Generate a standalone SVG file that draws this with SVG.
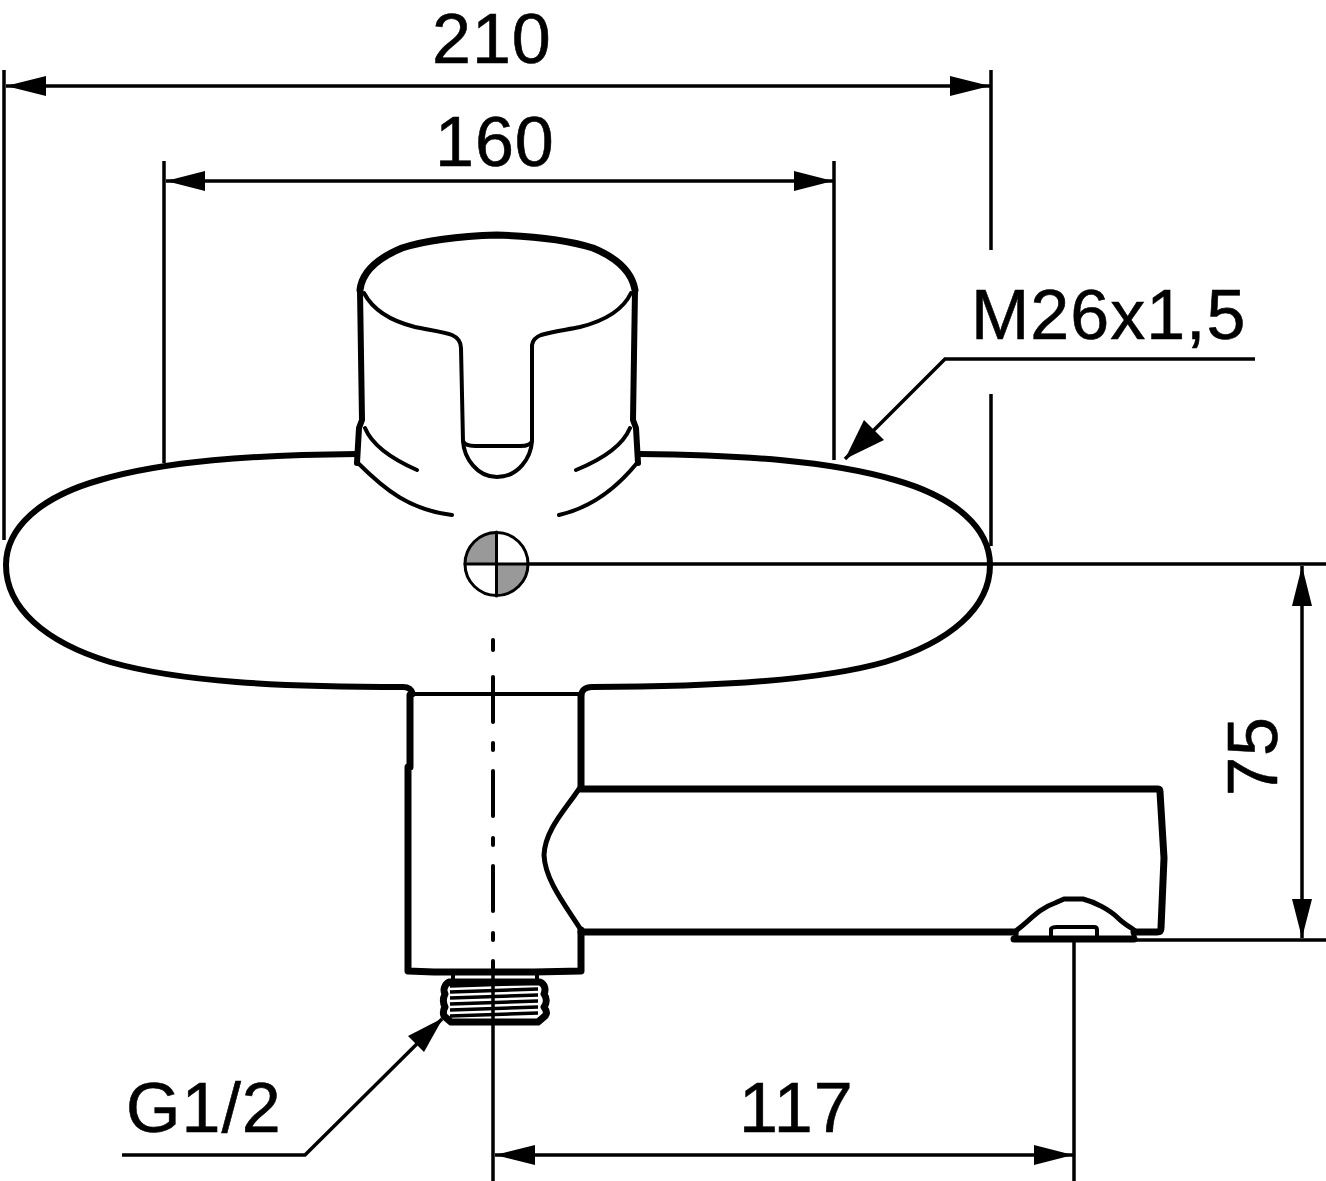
<svg xmlns="http://www.w3.org/2000/svg" width="1326" height="1181" viewBox="0 0 1326 1181">
<defs>
<style>
.t{font-family:"Liberation Sans",Arial,sans-serif;font-size:70px;letter-spacing:1px;fill:#000;stroke:#000;stroke-width:.6}
.h{fill:none;stroke:#000;stroke-width:6;stroke-linejoin:round;stroke-linecap:round}
.m{fill:none;stroke:#000;stroke-width:4;stroke-linejoin:round;stroke-linecap:round}
.d{fill:none;stroke:#000;stroke-width:3.500}
.a{fill:#000;stroke:none}
</style>
</defs>
<rect width="1326" height="1181" fill="#fff"/>
<g id="body">
<path class="h" d="M357 454C250 455 165 461 100 480C40 497 6 528 6 565C6 608 45 642 110 662C180 682 280 687 403 687Q411 687 413 694"/>
<path class="h" d="M639 454C745 455 830 461 895 480C955 497 990 528 990 565C990 608 950 642 885 662C815 682 700 687 592 687Q582 687 581 696"/>
</g>
<g id="knob">
<path class="h" style="stroke-width:7" d="M360 290C362 272 378 258 402 248C430 239 465 236 497 235C530 236 565 239 593 248C617 258 632 272 635 290"/>
<path class="h" d="M360 290L362 420L359 428L357 463M635 290L633 420L636 428L638 463"/>
<path class="m" d="M364 293C374 312 395 322 415 327C430 330 445 332 452 335Q461 339 461 348L463 441C464 458 477 477 497 477C518 477 531 458 532 441L532 345Q533 338 541 335C550 332 565 330 580 327C600 322 622 312 631 293"/>
<path class="m" d="M463 441Q465 446 475 446L520 446Q531 446 532 441"/>
<path class="m" d="M365 428C372 445 392 459 417 470M630 428C623 445 603 459 576 470"/>
<path class="m" d="M358 463C385 490 410 510 452 515M637 463C615 490 590 508 559 515"/>
</g>
<g id="centre-mark">
<path d="M496 563L496 532A31.500 31.500 0 0 0 465 563ZM497 564L528 564A31.500 31.500 0 0 1 497 596Z" fill="#999"/>
<circle class="m" style="stroke-width:3" cx="496.500" cy="564" r="31.500"/>
<path class="m" style="stroke-width:3" d="M465 564H528M496.500 532V596"/>
</g>
<g id="stem">
<path class="m" d="M413 694H579"/>
<path class="h" style="stroke-width:7" d="M410 695V767M408 767V971L434 972H534L581 971V930M581 695V787"/>
<path class="m" style="stroke-width:5" d="M579 789C565 810 545 830 544 855C545 880 565 905 581 930"/>
</g>
<g id="spout">
<path class="h" style="stroke-width:7" d="M581 789H1158Q1160 789 1160 792L1164 858L1161 928Q1161 932 1157 932H1134M581 932H1015"/>
<path class="h" style="stroke-width:7" d="M1014 939H1134"/>
<path class="m" style="stroke-width:5" d="M1016 932V939M1134 932V939M1017 930C1030 920 1040 908 1055 903L1064 899H1083C1095 902 1110 910 1118 918C1124 924 1130 927 1134 930"/>
<path class="m" d="M1051 937V929Q1052 927 1057 927H1094Q1097 927 1097 930V937"/>
</g>
<g id="thread">
<path class="m" d="M453 974V982M537 974V982"/>
<path class="h" style="stroke-width:7" d="M449 982H540C545 984 546 990 544 994C547 998 547 1003 544 1007C547 1011 547 1014 545 1016L538 1022H451L444 1016C443 1013 443 1010 445 1007C443 1003 443 998 445 994C443 990 444 985 449 982Z"/>
<path d="M450 986L538 983M450 992L538 989M450 998L538 995M450 1004L538 1001M450 1010L538 1007M450 1016L538 1013" stroke="#000" stroke-width="3.500" fill="none"/>
</g>
<g id="connectors">
<path class="d" d="M4 70V540M991 70V250M991 394V546M164 161V463M834 161V460"/>
<path class="d" d="M6 86H990M166 181H833"/>
<path class="a" d="M6 86L46 76V96ZM990 86L950 76V96ZM166 181L205 171V191ZM833 181L794 171V191Z"/>
<path class="d" d="M528 564H1326M1134 940H1326M1302 566V938"/>
<path class="a" d="M1302 566L1312 606H1292ZM1302 938L1312 899H1292Z"/>
<path class="d" d="M1255 359H945L845 459"/>
<path class="a" d="M845 459L864 420L884 440Z"/>
<path class="d" d="M122 1155H305L442 1019"/>
<path class="a" d="M443 1018L424 1052L408 1036Z"/>
<path class="d" d="M493 972V1181M1074 941V1181M495 1155H1073"/>
<path class="a" d="M495 1155L535 1145V1165ZM1073 1155L1034 1145V1165Z"/>
<path class="m" d="M493 640V650M493 677V722M493 743V750M493 771V816M493 838V845M493 866V911M493 933V940M493 961V972"/>
</g>
<g id="labels">
<text class="t" x="432" y="63">210</text>
<text class="t" x="435" y="166">160</text>
<text class="t" x="971" y="339">M26x1,5</text>
<text class="t" transform="translate(1277 796) rotate(-90)">75</text>
<text class="t" x="739" y="1132">117</text>
<text class="t" x="126" y="1132">G1/2</text>
</g>
</svg>
